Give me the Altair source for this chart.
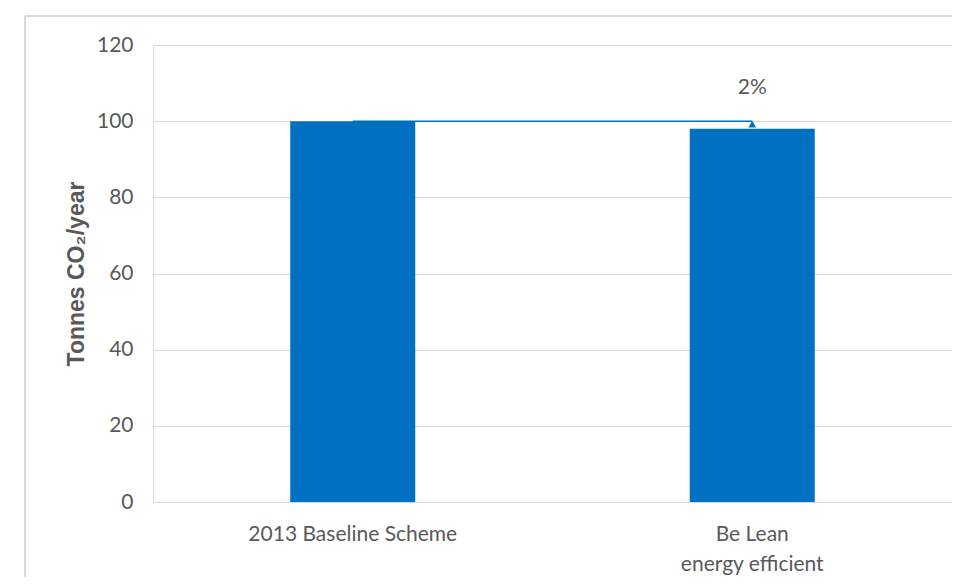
import altair as alt
import pandas as pd

categories = ["2013 Baseline Scheme", "Be Lean\nenergy efficient"]
values = [100, 98]
reduction_label = "2%"
y_ticks = [0, 20, 40, 60, 80, 100, 120]

bars_df = pd.DataFrame({"cat": categories, "value": values})
link_df = pd.DataFrame({"cat": [categories[0]], "cat2": [categories[1]], "value": [values[0]]})
mark_df = pd.DataFrame({"cat": [categories[1]], "value": [values[0]], "label": [reduction_label]})

FONT = "Lato"
GRAY = "#595959"
BLUE = "#0070C0"
LFS = 21

x_scale = alt.Scale(domain=categories, paddingInner=0, paddingOuter=0)
x_enc = alt.X(
    "cat:N",
    sort=categories,
    scale=x_scale,
    axis=alt.Axis(
        title=None, labelAngle=0, labelAlign="center", ticks=False, domain=False,
        labelExpr="split(datum.label, '\\n')", labelLimit=0,
        labelFont=FONT, labelFontSize=LFS, labelColor=GRAY,
        labelPadding=32, labelLineHeight=30,
    ),
)
y_scale = alt.Scale(domain=[0, 120], nice=False)

link = alt.Chart(link_df).mark_rule(color=BLUE, strokeWidth=1.5).encode(
    x=alt.X("cat:N", sort=categories, scale=x_scale),
    x2="cat2:N",
    y=alt.Y("value:Q", scale=y_scale),
)

bars = alt.Chart(bars_df).mark_bar(color=BLUE, size=125).encode(
    x=x_enc,
    y=alt.Y(
        "value:Q",
        scale=y_scale,
        axis=alt.Axis(
            title="Tonnes CO₂/year", values=y_ticks, ticks=False, domain=False,
            grid=True, gridColor="#d9d9d9", gridWidth=1,
            labelFont=FONT, labelFontSize=LFS, labelColor=GRAY, labelPadding=20,
            titleFont="Liberation Sans", titleFontSize=23, titleFontWeight="bold",
            titleColor=GRAY, titlePadding=8,
        ),
    ),
)

arrow = alt.Chart(mark_df).mark_point(
    shape="triangle-up", filled=True, size=60, color=BLUE, opacity=1, yOffset=3
).encode(
    x=alt.X("cat:N", sort=categories, scale=x_scale),
    y=alt.Y("value:Q", scale=y_scale),
)

label = alt.Chart(mark_df).mark_text(
    font=FONT, fontSize=LFS, color=GRAY, dy=-33
).encode(
    x=alt.X("cat:N", sort=categories, scale=x_scale),
    y=alt.Y("value:Q", scale=y_scale),
    text="label:N",
)

frame_left = alt.Chart(bars_df.head(1)).mark_rule(color="#d9d9d9", strokeWidth=2).encode(
    x=alt.value(-128), y=alt.value(-29), y2=alt.value(560)
)
frame_top = alt.Chart(bars_df.head(1)).mark_rule(color="#d9d9d9", strokeWidth=2).encode(
    x=alt.value(-128), x2=alt.value(820), y=alt.value(-29)
)

chart = alt.layer(frame_left, frame_top, link, bars, arrow, label).properties(
    width=799,
    height=457,
    autosize=alt.AutoSizeParams(type="none"),
    padding={"left": 145, "top": 37, "right": 0, "bottom": 75},
).configure_view(stroke=None).configure(background="white")

chart.save("out.html", embed_options={"renderer": "svg", "actions": False})
